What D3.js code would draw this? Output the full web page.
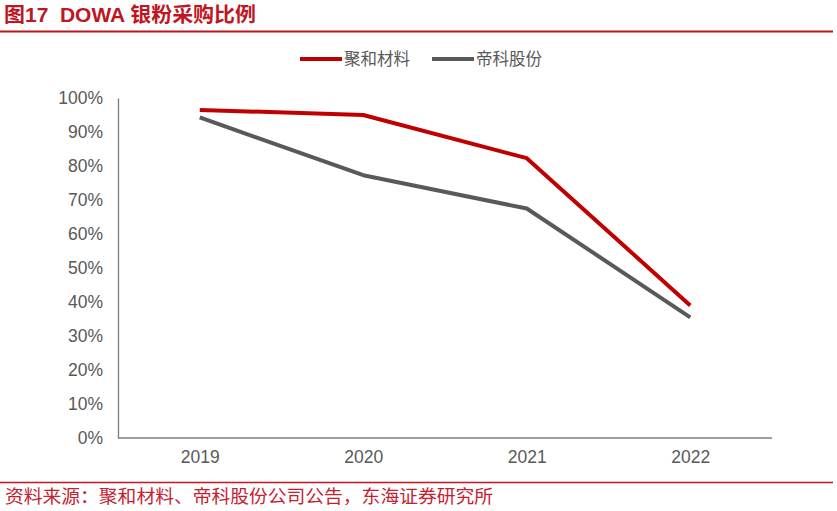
<!DOCTYPE html>
<html><head><meta charset="utf-8">
<script src="https://cdn.jsdelivr.net/npm/d3@7/dist/d3.min.js"></script>
<style>body{margin:0;background:#fff}svg{display:block}</style>
</head><body><svg id="c" width="837" height="511"></svg>
<script>
const categories = ["2019","2020","2021","2022"];
const seriesNames = ["聚和材料","帝科股份"];
const juheValues = [96.5, 95.0, 82.3, 39.0];
const dikeValues = [94.3, 77.3, 67.5, 35.5];
const yTicks = [0,10,20,30,40,50,60,70,80,90,100];
const titleText = "图17  DOWA 银粉采购比例";
const sourceText = "资料来源：聚和材料、帝科股份公司公告，东海证券研究所";

const colors = ["#c00000", "#595959"];
const font = "'Noto Sans CJK SC', 'Liberation Sans', Arial, sans-serif";
const svg = d3.select("#c");

svg.append("text").attr("x", 4).attr("y", 22).text(titleText)
  .style("white-space", "pre").attr("xml:space", "preserve")
  .attr("textLength", 252).attr("lengthAdjust", "spacingAndGlyphs")
  .attr("font-family", "'Liberation Sans', 'Noto Sans CJK SC', Arial, sans-serif").attr("font-size", 20).attr("font-weight", "bold").attr("fill", "#c0161f");
svg.append("line").attr("x1", 0).attr("x2", 833).attr("y1", 31.5).attr("y2", 31.5)
  .attr("stroke", "#c0161f").attr("stroke-width", 2);
svg.append("line").attr("x1", 0).attr("x2", 833).attr("y1", 482.5).attr("y2", 482.5)
  .attr("stroke", "#c0161f").attr("stroke-width", 1.5);
svg.append("text").attr("x", 5).attr("y", 503).text(sourceText)
  .attr("textLength", 488).attr("lengthAdjust", "spacingAndGlyphs")
  .attr("font-family", font).attr("font-size", 18).attr("fill", "#c42130");

const x = d3.scalePoint().domain(categories).range([199.75, 690.25]);
const y = d3.scaleLinear().domain([0, 100]).range([438, 98]);

const yAxis = svg.append("g").attr("transform", "translate(118,0)")
  .call(d3.axisLeft(y).tickValues(yTicks).tickFormat(d => d + "%").tickSize(0).tickPadding(15));
yAxis.select(".domain").attr("stroke", "#7f7f7f").attr("stroke-width", 1.3);
yAxis.selectAll("text").attr("font-family", "'Liberation Sans', Arial, sans-serif").attr("font-size", 17.5).attr("fill", "#595959");

const xAxis = svg.append("g").attr("transform", "translate(0,438)")
  .call(d3.axisBottom(x).tickSize(0).tickPadding(13));
xAxis.select(".domain").remove();
svg.append("line").attr("x1", 118).attr("x2", 772).attr("y1", 438).attr("y2", 438)
  .attr("stroke", "#7f7f7f").attr("stroke-width", 1.3);
xAxis.selectAll("text").attr("font-family", "'Liberation Sans', Arial, sans-serif").attr("font-size", 17.5).attr("fill", "#595959");

const line = d3.line().x((d, i) => x(categories[i])).y(d => y(d));
[juheValues, dikeValues].forEach((vals, i) => {
  svg.append("path").datum(vals).attr("d", line).attr("fill", "none")
    .attr("stroke", colors[i]).attr("stroke-width", 4).attr("stroke-linejoin", "round");
});

const legendX = [300, 432];
seriesNames.forEach((n, i) => {
  svg.append("line").attr("x1", legendX[i]).attr("x2", legendX[i] + 42).attr("y1", 59).attr("y2", 59)
    .attr("stroke", colors[i]).attr("stroke-width", 4);
  svg.append("text").attr("x", legendX[i] + 44).attr("y", 65).text(n)
    .attr("font-family", font).attr("font-size", 16.5).attr("fill", "#595959");
});
</script></body></html>
